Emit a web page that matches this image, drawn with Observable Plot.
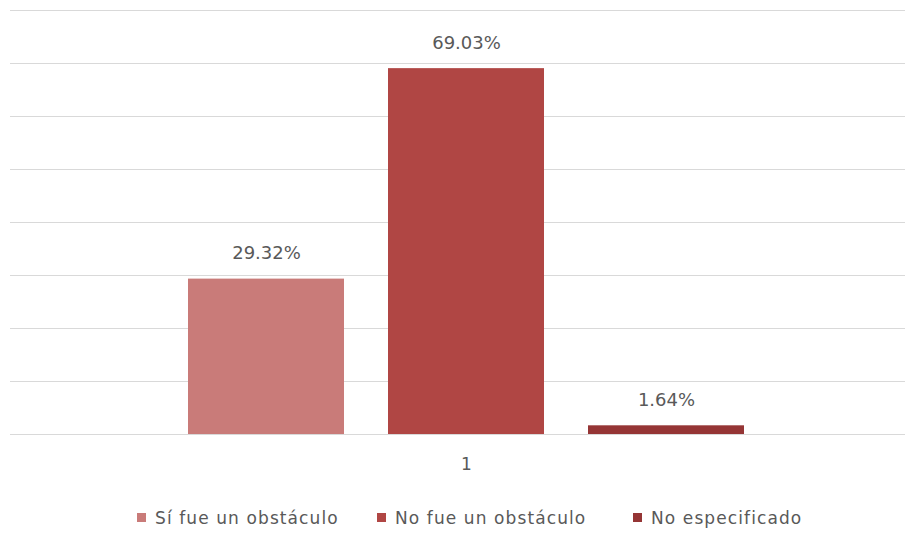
<!DOCTYPE html>
<html>
<head>
<meta charset="utf-8">
<script src="https://cdn.jsdelivr.net/npm/d3@7"></script>
<script src="https://cdn.jsdelivr.net/npm/@observablehq/plot@0.6"></script>
<style>
  body { margin: 0; background: #fff; font-family: "DejaVu Sans", sans-serif; }
  #legend { position: relative; height: 30px; font-size: 17px; letter-spacing: 1.1px; color: #595959; margin-top: 16px; }
  #legend div { position: absolute; top: 0; white-space: nowrap; }
  #legend span.sw { display: inline-block; width: 9px; height: 9px; margin-right: 9px; vertical-align: 2px; }
</style>
</head>
<body>
<div id="chart"></div>
<div id="legend"></div>
<script>
const category = "1";
const series = ["Sí fue un obstáculo", "No fue un obstáculo", "No especificado"];
const values = [29.32, 69.03, 1.64];
const colors = ["#c97b79", "#b04644", "#953535"];
const yTicks = [0, 10, 20, 30, 40, 50, 60, 70, 80];

const data = series.map((s, i) => ({category, series: s, value: values[i]}));

const chart = Plot.plot({
  width: 909,
  height: 492,
  marginLeft: 27,
  marginRight: 4,
  marginTop: 10,
  marginBottom: 58,
  style: {fontFamily: "'DejaVu Sans', sans-serif", fontSize: "17px", color: "#595959"},
  fx: {domain: [category], padding: 0, label: null, tickSize: 0, tickPadding: 23},
  x: {domain: series, paddingInner: 0.22, paddingOuter: 0.805, align: 0.5, axis: null},
  y: {domain: [0, 80], axis: null},
  color: {domain: series, range: colors},
  marks: [
    Plot.ruleY(yTicks, {stroke: "#d9d9d9", strokeWidth: 1, insetLeft: -17}),
    Plot.barY(data, {fx: "category", x: "series", y: "value", fill: "series"}),
    Plot.text(data, {fx: "category", x: "series", y: "value", text: d => d.value.toFixed(2) + "%", lineAnchor: "bottom", dy: -20, fill: "#595959", fontSize: 18, letterSpacing: 2})
  ]
});
document.getElementById("chart").appendChild(chart);

const legend = document.getElementById("legend");
const legendX = [137, 377, 633];
series.forEach((s, i) => {
  const item = document.createElement("div");
  item.style.left = legendX[i] + "px";
  item.innerHTML = `<span class="sw" style="background:${colors[i]}"></span>${s}`;
  legend.appendChild(item);
});
</script>
</body>
</html>
